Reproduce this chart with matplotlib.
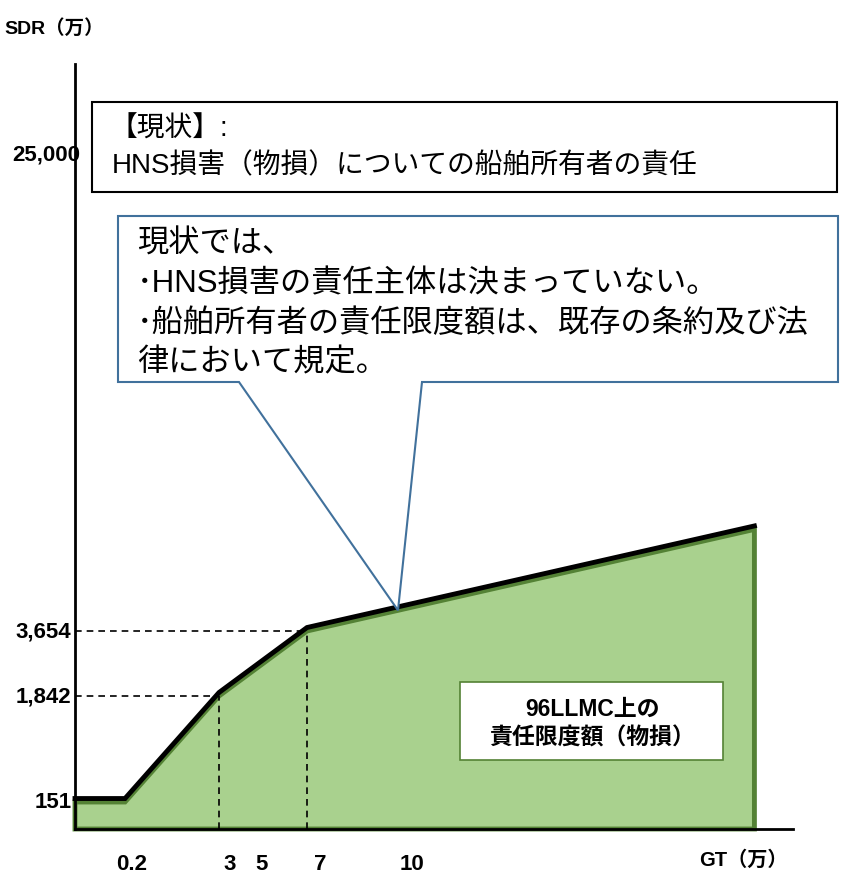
import numpy as np
import matplotlib
matplotlib.use("Agg")
import matplotlib.pyplot as plt
from matplotlib import patches
from matplotlib.transforms import blended_transform_factory, ScaledTranslation

# Dados (GT em 万, SDR em 万)
gt_pts = [0, 0.2, 3, 7, 21.75]
sdr_pts = [151, 151, 1842, 3654, 8200]
y_ticks = [151, 1842, 3654, 25000]
y_tick_labels = ["151", "1,842", "3,654", "25,000"]
x_ticks = [0.2, 3, 5, 7, 10]
x_tick_labels = ["0.2", "3", "5", "7", "10"]
gt_callout = 10

W, H = 845, 879
FONT = ["Liberation Sans", "Noto Sans CJK JP"]
plt.rcParams["font.family"] = FONT


def piecewise(src, dst):
    # escala esquemática: interpolação linear por partes, com extrapolação
    src = np.asarray(src, float)
    dst = np.asarray(dst, float)
    s0 = (dst[1] - dst[0]) / (src[1] - src[0])
    s1 = (dst[-1] - dst[-2]) / (src[-1] - src[-2])

    def f(v):
        v = np.asarray(v, float)
        out = np.interp(v, src, dst)
        out = np.where(v < src[0], dst[0] + (v - src[0]) * s0, out)
        out = np.where(v > src[-1], dst[-1] + (v - src[-1]) * s1, out)
        return out
    return f


# âncoras da escala (posição em pixels)
x_fwd = piecewise([0, 0.2, 3, 7, 10], [75, 125, 219, 307, 398])
x_inv = piecewise([75, 125, 219, 307, 398], [0, 0.2, 3, 7, 10])
y_fwd = piecewise([0, 151, 1842, 3654, 25000], [H - 830, H - 803, H - 697, H - 632, H - 155])
y_inv = piecewise([H - 830, H - 803, H - 697, H - 632, H - 155], [0, 151, 1842, 3654, 25000])

fig = plt.figure(figsize=(W / 100, H / 100), dpi=100)
ax = fig.add_axes([0, 0, 1, 1])
ax.set_xscale("function", functions=(x_fwd, x_inv))
ax.set_yscale("function", functions=(y_fwd, y_inv))
ax.set_xlim(float(x_inv(0)), float(x_inv(W)))
ax.set_ylim(float(y_inv(0)), float(y_inv(H)))
ax.axis("off")


def fig_xy(px, py):
    return px / W, 1 - py / H


# área verde
poly_x = [gt_pts[0]] + gt_pts + [gt_pts[-1]]
poly_y = [0] + sdr_pts + [0]
ax.fill(poly_x, poly_y, facecolor="#A9D18E", edgecolor="#548235", linewidth=3.5, zorder=2)
up = ax.transData + ScaledTranslation(0, 2.5 / 72, fig.dpi_scale_trans)
ax.plot(gt_pts, sdr_pts, color="black", linewidth=3.5, transform=up, zorder=3,
        solid_joinstyle="miter")

# linhas tracejadas
for gx, sy in [(3, 1842), (7, 3654)]:
    ax.plot([0, gx], [sy, sy], color="black", linestyle=(0, (4, 3)), linewidth=1.2, zorder=4)
    ax.plot([gx, gx], [0, sy], color="black", linestyle=(0, (4, 3)), linewidth=1.2, zorder=4)

# eixos
ax.plot([0, 0], [0, float(y_inv(H - 65))], color="black", linewidth=2, zorder=5)
ax.plot([0, float(x_inv(793))], [0, 0], color="black", linewidth=2, zorder=5)

# rótulos dos eixos
tr_y = blended_transform_factory(fig.transFigure, ax.transData)
y_label_right = [72, 71, 71, 80]
for v, lab, xr in zip(y_ticks, y_tick_labels, y_label_right):
    ax.text(xr / W, v, lab, transform=tr_y, ha="right", va="center",
            fontsize=16, fontweight="bold", zorder=6)
tr_x = blended_transform_factory(ax.transData, fig.transFigure)
x_offsets = [7, 11, -1, 13, 14]
for v, lab, off in zip(x_ticks, x_tick_labels, x_offsets):
    t = tr_x + ScaledTranslation(off / 100, 0, fig.dpi_scale_trans)
    ax.text(v, 1 - 865 / H, lab, transform=t, ha="center", va="center",
            fontsize=16, fontweight="bold")

fig.text(*fig_xy(4, 28), "SDR（万）", ha="left", va="center", fontsize=14, fontweight="bold")
fig.text(*fig_xy(699, 860), "GT（万）", ha="left", va="center", fontsize=14.5, fontweight="bold")

# caixa superior
x0, y0 = fig_xy(92, 193)
x1, y1 = fig_xy(837, 103)
fig.patches.append(patches.Rectangle((x0, y0), x1 - x0, y1 - y0, transform=fig.transFigure,
                                     facecolor="white", edgecolor="black", linewidth=1.5, zorder=6))
fig.text(*fig_xy(110, 130), "【現状】:", ha="left", va="center", fontsize=20, zorder=7)
fig.text(*fig_xy(112, 166), "HNS損害（物損）についての船舶所有者の責任", ha="left", va="center",
         fontsize=20, zorder=7)

# balão explicativo
y_tip = np.interp(gt_callout, gt_pts, sdr_pts)
tip = fig.transFigure.inverted().transform(ax.transData.transform((gt_callout, y_tip)))
corners = [fig_xy(118, 217), fig_xy(838, 217), fig_xy(838, 383), fig_xy(422, 383),
           tuple(tip), fig_xy(239, 383), fig_xy(118, 383)]
fig.patches.append(patches.Polygon(corners, closed=True, transform=fig.transFigure,
                                   facecolor="white", edgecolor="#41719C", linewidth=1.5, zorder=6))
callout_lines = ["現状では、", "･HNS損害の責任主体は決まっていない。",
                 "･船舶所有者の責任限度額は、既存の条約及び法", "律において規定。"]
for i, line in enumerate(callout_lines):
    fig.text(*fig_xy(137, 245 + i * 39.5), line, ha="left", va="center", fontsize=22.5, zorder=7)

# caixa interna
x0, y0 = fig_xy(460, 761)
x1, y1 = fig_xy(723, 683)
ax.add_patch(patches.Rectangle((x0, y0), x1 - x0, y1 - y0, transform=fig.transFigure,
                               facecolor="white", edgecolor="#548235", linewidth=1.2, zorder=6))
fig.text(*fig_xy(592, 709), "96LLMC上の", ha="center", va="center", fontsize=16.5,
         fontweight="bold", zorder=7)
fig.text(*fig_xy(592, 738), "責任限度額（物損）", ha="center", va="center", fontsize=16.5,
         fontweight="bold", zorder=7)

fig.savefig("out.png", dpi=100)
